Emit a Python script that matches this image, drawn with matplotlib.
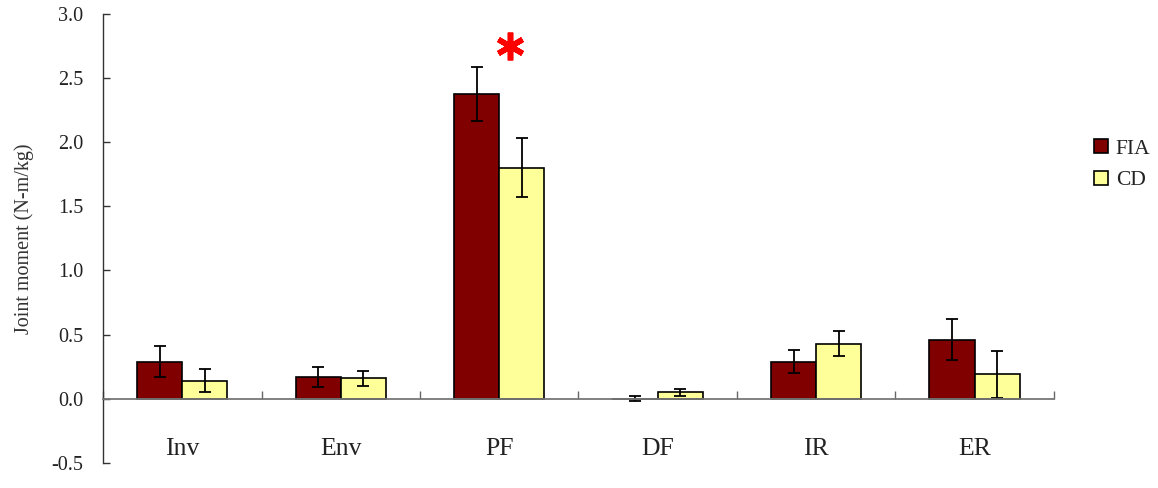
import matplotlib
matplotlib.use("Agg")
import matplotlib.pyplot as plt
import numpy as np
from matplotlib.patches import Patch

plt.rcParams["font.family"] = ["Liberation Serif", "DejaVu Serif"]
plt.rcParams["axes.unicode_minus"] = False

categories = ["Inv", "Env", "PF", "DF", "IR", "ER"]
series_names = ["FIA", "CD"]
fia_mean = [0.29, 0.17, 2.37, 0.00, 0.29, 0.46]
fia_sd = [0.12, 0.08, 0.21, 0.02, 0.09, 0.16]
cd_mean = [0.14, 0.16, 1.80, 0.05, 0.43, 0.19]
cd_sd = [0.09, 0.06, 0.23, 0.03, 0.10, 0.18]
y_ticks = [-0.5, 0.0, 0.5, 1.0, 1.5, 2.0, 2.5, 3.0]
significant = ["PF"]

fia_color = "#800000"
cd_color = "#FFFF99"
text_color = "#222222"

fig = plt.figure(figsize=(11.58, 4.88), dpi=100)
ax = fig.add_axes([0.089, 0.0512, 0.821, 0.9211])

x = np.arange(len(categories)) + 0.5
w = 0.285
err_kw = dict(ecolor="black", elinewidth=1.3, capsize=4, capthick=1.3)
ax.bar(x - w / 2, fia_mean, w, yerr=fia_sd, color=fia_color, edgecolor="black",
       linewidth=1.2, error_kw=err_kw, label=series_names[0], zorder=2)
ax.bar(x + w / 2, cd_mean, w, yerr=cd_sd, color=cd_color, edgecolor="black",
       linewidth=1.2, error_kw=err_kw, label=series_names[1], zorder=2)

# significance marker above the flagged group
for name in significant:
    i = categories.index(name)
    ax.plot(x[i] + 0.07, fia_mean[i] + fia_sd[i] + 0.17, marker=(6, 2, 0),
            markersize=20, markeredgewidth=4, color="red",
            solid_capstyle="round", zorder=3)

ax.set_xlim(0, len(categories))
ax.set_ylim(-0.5, 3.0)

ax.spines["top"].set_visible(False)
ax.spines["right"].set_visible(False)
ax.spines["left"].set_color("#333333")
ax.spines["left"].set_linewidth(1.0)
ax.spines["bottom"].set_position(("data", 0))
ax.spines["bottom"].set_color("#777777")
ax.spines["bottom"].set_linewidth(1.3)

ax.set_yticks(y_ticks)
ax.set_yticklabels([f"{v:.1f}" for v in y_ticks])
ax.tick_params(axis="y", direction="in", length=5, width=1, color="#333333",
               labelsize=14.5, labelcolor=text_color, pad=14)

ax.set_xticks(np.arange(len(categories) + 1))
ax.set_xticklabels([])
ax.tick_params(axis="x", which="major", direction="in", length=6, width=1,
               color="#666666")
ax.set_xticks(x, minor=True)
ax.set_xticklabels(categories, minor=True)
ax.tick_params(axis="x", which="minor", length=0, labelsize=18.5,
               labelcolor=text_color, pad=28)

ax.set_ylabel("Joint moment (N-m/kg)", fontsize=14.5, color="#333333", labelpad=13)

handles = [Patch(facecolor=fia_color, edgecolor="black", linewidth=1.2),
           Patch(facecolor=cd_color, edgecolor="black", linewidth=1.2)]
fig.legend(handles, series_names, loc="upper left", bbox_to_anchor=(0.945, 0.715),
           frameon=False, fontsize=15.5, handlelength=0.65, handleheight=0.65,
           handletextpad=0.35, labelspacing=0.55, labelcolor=text_color,
           borderaxespad=0, borderpad=0)

fig.savefig("out.png", dpi=100)
